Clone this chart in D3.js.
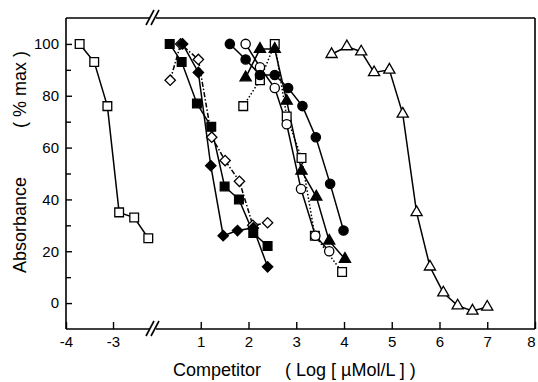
<!DOCTYPE html>
<html>
<head>
<meta charset="utf-8">
<script src="https://cdn.jsdelivr.net/npm/d3@7"></script>
<style>
  body { margin: 0; background: #fff; }
  svg { display: block; font-family: "Liberation Sans", Arial, sans-serif; }
</style>
</head>
<body>
<script>
//competition curves
const width = 538;
const height = 382;

// x = log competitor, y = absorbance (% max)
const openSqLeft   = [[-3.71,100],[-3.40,93],[-3.12,76],[-2.87,35],[-2.55,33],[-2.25,25]];
const filledSq     = [[0.35,100],[0.60,93],[0.92,77],[1.22,68],[1.50,45],[1.80,40],[2.10,27],[2.40,22]];
const filledDiam   = [[0.62,100],[0.95,89],[1.21,53],[1.47,26],[1.77,28],[2.10,29],[2.40,14]];
const openDiam     = [[0.36,86],[0.58,100],[0.95,94],[1.23,64],[1.51,55],[1.81,47],[2.09,30],[2.40,31]];
const filledCirc   = [[1.61,100],[1.94,94],[2.24,88],[2.55,88],[2.83,83],[3.13,76],[3.41,64],[3.71,46],[3.99,28]];
const openCirc     = [[1.94,100],[2.24,91],[2.55,83],[2.80,69],[3.10,44],[3.40,26],[3.69,20]];
const filledTri    = [[1.94,87],[2.24,98],[2.55,98],[2.80,78],[3.11,51],[3.42,41],[3.69,24],[4.02,17]];
const openSqRight  = [[1.89,76],[2.24,86],[2.55,100],[2.80,72],[3.11,56],[3.39,26],[3.96,12]];
const openTri      = [[3.74,96],[4.06,99],[4.36,97],[4.63,89],[4.95,90],[5.23,73],[5.52,35],[5.80,14],[6.08,4],[6.38,-1],[6.69,-3],[7.00,-1.5]];

const xTicks = [-4,-3,1,2,3,4,5,6,7,8];
const yTicks = [0,20,40,60,80,100];
const yMinor = [10,30,50,70,90];

// series -> marker / line look
const series = [
    {data: openSqLeft,  shape: "square",   fill: "white", dash: null},
    {data: openTri,     shape: "triangle", fill: "white", dash: null},
    {data: openSqRight, shape: "square",   fill: "white", dash: "1.5,2"},
    {data: openCirc,    shape: "circle",   fill: "white", dash: null},
    {data: filledTri,   shape: "triangle", fill: "black", dash: null},
    {data: filledCirc,  shape: "circle",   fill: "black", dash: null},
    {data: openDiam,    shape: "diamond",  fill: "white", dash: "5,2,1.5,2"},
    {data: filledSq,    shape: "square",   fill: "black", dash: null},
    {data: filledDiam,  shape: "diamond",  fill: "black", dash: null}
];

const pLeft = 66, pRight = 535, pTop = 18, pBottom = 329;
const brk = 153; // axis break

const svg = d3.select("body").append("svg")
              .attr("width", width).attr("height", height);

// broken x axis: left piece -4..-2.15, right piece 0..8
const x = d3.scaleLinear().domain([-4, -2.15, 0, 8]).range([pLeft, brk, brk, pRight]);
const y = d3.scaleLinear().domain([-10, 110]).range([pBottom, pTop]);

//frame
const frame = svg.append("g").attr("stroke", "black").attr("stroke-width", 1.6).attr("fill", "none");
frame.append("line").attr("x1", pLeft).attr("y1", pTop).attr("x2", pLeft).attr("y2", pBottom);
frame.append("line").attr("x1", pRight).attr("y1", pTop).attr("x2", pRight).attr("y2", pBottom);
[pTop, pBottom].forEach(yy => {
    frame.append("line").attr("x1", pLeft).attr("y1", yy).attr("x2", brk - 3).attr("y2", yy);
    frame.append("line").attr("x1", brk + 3).attr("y1", yy).attr("x2", pRight).attr("y2", yy);
    // the // marks
    frame.append("line").attr("x1", brk - 7).attr("y1", yy + 7).attr("x2", brk + 1).attr("y2", yy - 8);
    frame.append("line").attr("x1", brk - 2).attr("y1", yy + 7).attr("x2", brk + 6).attr("y2", yy - 8);
});

//axes
svg.append("g").attr("transform", `translate(0,${pBottom})`)
    .call(d3.axisBottom(x).tickValues(xTicks).tickSizeInner(-7).tickSizeOuter(0)
            .tickPadding(7).tickFormat(d => String(d)))
    .selectAll(".tick text").filter(d => d === 8).attr("dx", -4); // keep the 8 inside the page

svg.append("g").attr("transform", `translate(${pLeft},0)`)
    .call(d3.axisLeft(y).tickValues(yTicks).tickSizeInner(-6).tickSizeOuter(0)
            .tickPadding(7).tickFormat(d => String(d)));

svg.append("g").attr("transform", `translate(${pLeft},0)`)
    .call(d3.axisLeft(y).tickValues(yMinor).tickSizeInner(-5).tickSizeOuter(0).tickFormat(""));

svg.selectAll(".domain").remove();
svg.selectAll(".tick line").attr("stroke", "black").attr("stroke-width", 1.4);
svg.selectAll(".tick text").attr("font-size", 15).attr("fill", "black")
   .style("font-family", "'Liberation Sans', Arial, sans-serif");

//axis titles
const xt = svg.append("text").attr("font-size", 18).attr("y", 376);
xt.append("tspan").attr("x", 173).text("Competitor");
xt.append("tspan").attr("x", 285).text("( Log [ \u00B5Mol/L ] )");

const yt = svg.append("text").attr("font-size", 18)
              .attr("transform", "translate(26,0) rotate(-90)");
yt.append("tspan").attr("x", -273).text("Absorbance");
yt.append("tspan").attr("x", -128).text("( % max )");

//marker shapes
function markerPath(shape) {
    if (shape === "circle") return d3.symbol(d3.symbolCircle, 68)();
    if (shape === "square") return d3.symbol(d3.symbolSquare, 76)();
    if (shape === "diamond") return d3.symbol(d3.symbolSquare, 54)();
    return d3.symbol(d3.symbolTriangle, 54)();
}

const line = d3.line().x(d => x(d[0])).y(d => y(d[1]));

const plot = svg.append("g");

series.forEach(s => {
    plot.append("path")
        .attr("d", line(s.data))
        .attr("fill", "none")
        .attr("stroke", "black")
        .attr("stroke-width", 1.5)
        .attr("stroke-dasharray", s.dash);
});

series.forEach(s => {
    plot.append("g").selectAll("path")
        .data(s.data)
        .enter().append("path")
        .attr("d", markerPath(s.shape))
        .attr("transform", d => `translate(${x(d[0])},${y(d[1])})` + (s.shape === "diamond" ? " rotate(45)" : ""))
        .attr("fill", s.fill)
        .attr("stroke", "black")
        .attr("stroke-width", 1.3);
});
</script>
</body>
</html>
